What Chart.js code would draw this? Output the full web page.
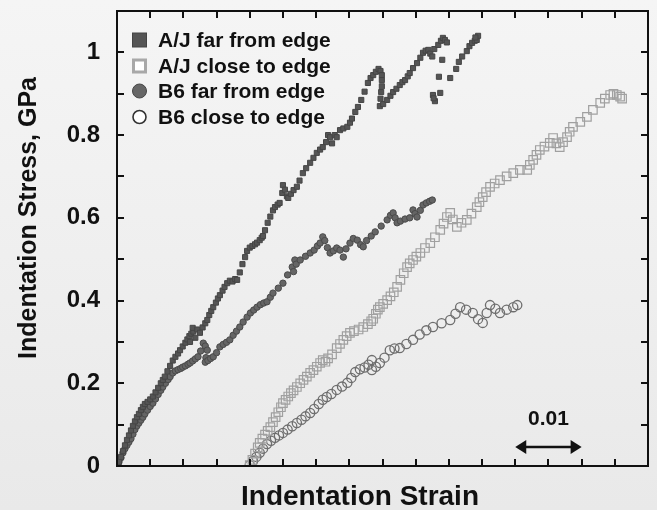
<!DOCTYPE html>
<html>
<head>
<meta charset="utf-8">
<script src="https://cdn.jsdelivr.net/npm/chart.js@4.4.1/dist/chart.umd.min.js"></script>
<style>
  html, body { margin: 0; padding: 0; }
  body { width: 657px; height: 510px; background: linear-gradient(#f5f5f5, #e9e9e9); }
  #wrap { width: 657px; height: 510px; }
</style>
</head>
<body>
<div id="wrap"><canvas id="stressChart" width="657" height="510"></canvas></div>
<script>
// strain, stress (GPa)
const ajFar = [
  [0,0],[0.0003,0.010],[0.0006,0.022],[0.0009,0.036],[0.0012,0.050],[0.0015,0.063],[0.0018,0.074],[0.0021,0.086],
  [0.0024,0.097],[0.0027,0.108],[0.003,0.118],[0.0033,0.126],[0.0036,0.135],[0.0039,0.143],[0.0042,0.150],[0.0046,0.155],
  [0.005,0.161],[0.0054,0.168],[0.0058,0.178],[0.0062,0.189],[0.0066,0.200],[0.0069,0.208],[0.0072,0.216],[0.0076,0.229],
  [0.008,0.242],[0.0084,0.255],[0.0088,0.264],[0.0092,0.272],[0.0095,0.280],[0.0099,0.289],[0.0103,0.298],[0.0106,0.306],
  [0.0109,0.314],[0.0112,0.320],[0.0110,0.300],[0.0115,0.325],[0.0118,0.310],[0.0114,0.334],[0.0121,0.330],[0.0125,0.322],
  [0.0129,0.335],[0.0133,0.345],[0.0136,0.353],[0.0139,0.365],[0.0142,0.375],[0.0145,0.384],[0.0149,0.395],[0.0152,0.405],
  [0.0155,0.413],[0.0159,0.424],[0.0162,0.433],[0.0166,0.442],[0.017,0.448],[0.0174,0.446],[0.0178,0.452],[0.0181,0.450],
  [0.0185,0.468],[0.0189,0.488],[0.0193,0.505],[0.0196,0.520],[0.02,0.528],[0.0204,0.532],[0.0208,0.536],[0.0211,0.540],
  [0.0215,0.546],[0.0218,0.552],[0.022,0.556],[0.0223,0.570],[0.0227,0.588],[0.0231,0.603],[0.0235,0.618],[0.0238,0.626],
  [0.0242,0.632],[0.0245,0.636],[0.0249,0.660],[0.0250,0.679],[0.0253,0.668],[0.0256,0.652],[0.0258,0.648],[0.0262,0.658],
  [0.0266,0.667],[0.0271,0.675],[0.0275,0.690],[0.028,0.708],[0.0285,0.720],[0.0291,0.733],[0.0296,0.745],[0.0301,0.757],
  [0.0306,0.765],[0.031,0.771],[0.0315,0.783],[0.0318,0.800],[0.0321,0.795],[0.0324,0.780],[0.0328,0.800],[0.0331,0.795],
  [0.0336,0.812],[0.0341,0.816],[0.0347,0.820],[0.0351,0.830],[0.0354,0.840],[0.0359,0.856],[0.0363,0.868],[0.0368,0.885],
  [0.0373,0.905],[0.0378,0.926],[0.0382,0.938],[0.0386,0.945],[0.039,0.953],[0.0394,0.960],[0.0397,0.955],[0.0399,0.945],
  [0.0399,0.933],[0.0399,0.918],[0.0398,0.904],[0.0397,0.888],[0.0396,0.870],[0.0401,0.875],[0.0407,0.885],[0.0412,0.895],
  [0.0416,0.904],[0.0421,0.912],[0.0426,0.921],[0.043,0.928],[0.0434,0.933],[0.0438,0.942],[0.0441,0.950],[0.0446,0.962],
  [0.0452,0.974],[0.0457,0.987],[0.0461,0.999],[0.0465,1.004],[0.0469,1.006],[0.0472,0.997],[0.0475,0.990],[0.0478,1.008],
  [0.0484,1.018],[0.0488,1.028],[0.0491,1.035],[0.0494,1.030],[0.0497,1.024],[0.0490,0.982],[0.0485,0.941],[0.0502,0.938],
  [0.0476,0.897],[0.0479,0.882],[0.0487,0.902],[0.0477,0.889],[0.0511,0.960],[0.0515,0.977],[0.052,0.990],[0.0527,1.003],
  [0.0531,1.015],[0.0535,1.023],[0.0539,1.028],[0.0542,1.030],[0.0544,1.040],[0.0540,1.036]
];
const ajClose = [
  [0.0200,0.002],[0.0204,0.015],[0.0208,0.030],[0.0212,0.045],[0.0215,0.056],[0.0219,0.066],[0.0223,0.076],[0.0227,0.085],
  [0.0231,0.094],[0.0235,0.106],[0.0239,0.118],[0.0243,0.130],[0.0247,0.142],[0.025,0.152],[0.0254,0.160],[0.0258,0.168],
  [0.0262,0.176],[0.0266,0.183],[0.0271,0.191],[0.0276,0.200],[0.0281,0.208],[0.0286,0.216],[0.0291,0.225],[0.0296,0.232],
  [0.0301,0.240],[0.0306,0.249],[0.031,0.256],[0.0314,0.252],[0.0318,0.260],[0.0324,0.270],[0.0331,0.285],[0.0336,0.295],
  [0.0341,0.305],[0.0346,0.314],[0.0351,0.322],[0.0357,0.326],[0.0364,0.330],[0.0371,0.336],[0.0378,0.343],[0.0383,0.350],
  [0.0386,0.356],[0.039,0.368],[0.0393,0.378],[0.0396,0.384],[0.0401,0.392],[0.0407,0.401],[0.0412,0.410],[0.0417,0.420],
  [0.0422,0.433],[0.0427,0.450],[0.0432,0.466],[0.0437,0.481],[0.0441,0.490],[0.0446,0.498],[0.0451,0.506],[0.0457,0.515],
  [0.0464,0.527],[0.0472,0.539],[0.0479,0.553],[0.0487,0.571],[0.0492,0.586],[0.0497,0.602],[0.0502,0.612],[0.0506,0.596],
  [0.0512,0.578],[0.0519,0.588],[0.0527,0.595],[0.0534,0.610],[0.0542,0.626],[0.0546,0.638],[0.0551,0.650],[0.0556,0.662],
  [0.0562,0.675],[0.0569,0.683],[0.0577,0.691],[0.0587,0.700],[0.0597,0.708],[0.0607,0.716],[0.0618,0.716],[0.0622,0.728],
  [0.0627,0.740],[0.0632,0.752],[0.0637,0.764],[0.0644,0.772],[0.0652,0.781],[0.0657,0.793],[0.0662,0.780],[0.0667,0.771],
  [0.0672,0.783],[0.0678,0.795],[0.0682,0.808],[0.0687,0.820],[0.0698,0.832],[0.0708,0.844],[0.0717,0.861],[0.0728,0.878],
  [0.0735,0.888],[0.0743,0.897],[0.0748,0.900],[0.0753,0.897],[0.0758,0.893],[0.0761,0.888]
];
const b6Far = [
  [0,0],[0.0003,0.010],[0.0006,0.020],[0.0009,0.032],[0.0012,0.042],[0.0015,0.050],[0.0018,0.058],[0.0021,0.066],
  [0.0024,0.077],[0.0027,0.088],[0.003,0.097],[0.0033,0.104],[0.0036,0.111],[0.0039,0.118],[0.0042,0.126],[0.0046,0.135],
  [0.005,0.144],[0.0054,0.152],[0.0058,0.162],[0.0062,0.173],[0.0066,0.183],[0.0069,0.191],[0.0073,0.200],[0.0077,0.209],
  [0.008,0.216],[0.0084,0.225],[0.0088,0.230],[0.0092,0.233],[0.0096,0.236],[0.0099,0.239],[0.0103,0.242],[0.0107,0.246],
  [0.011,0.249],[0.0114,0.254],[0.0118,0.259],[0.0122,0.264],[0.0126,0.278],[0.013,0.297],[0.0133,0.290],[0.0136,0.280],
  [0.0134,0.262],[0.0133,0.251],[0.0137,0.255],[0.0141,0.260],[0.0145,0.264],[0.015,0.274],[0.0155,0.288],[0.016,0.294],
  [0.0165,0.299],[0.017,0.305],[0.0175,0.316],[0.018,0.326],[0.0185,0.336],[0.019,0.348],[0.0196,0.360],[0.0201,0.370],
  [0.0206,0.377],[0.0211,0.384],[0.0216,0.390],[0.0221,0.394],[0.0226,0.397],[0.0231,0.408],[0.0235,0.418],[0.0243,0.430],
  [0.025,0.442],[0.0257,0.462],[0.0264,0.481],[0.0266,0.470],[0.0268,0.498],[0.0270,0.488],[0.0276,0.498],[0.0284,0.507],
  [0.0291,0.515],[0.0297,0.522],[0.0302,0.532],[0.0306,0.539],[0.031,0.554],[0.0313,0.545],[0.0317,0.528],[0.0321,0.515],
  [0.0326,0.520],[0.0331,0.527],[0.0336,0.522],[0.0341,0.505],[0.0345,0.525],[0.0351,0.539],[0.0356,0.550],[0.0362,0.546],
  [0.0367,0.535],[0.0371,0.530],[0.0376,0.545],[0.0383,0.556],[0.0389,0.566],[0.0398,0.580],[0.0407,0.595],[0.0412,0.606],
  [0.0416,0.612],[0.0419,0.600],[0.0422,0.588],[0.0427,0.592],[0.0434,0.597],[0.0441,0.600],[0.0446,0.619],[0.0449,0.610],
  [0.0452,0.602],[0.0457,0.618],[0.0461,0.631],[0.0466,0.636],[0.0471,0.640],[0.0475,0.643]
];
const b6Close = [
  [0.0200,0.002],[0.0205,0.012],[0.021,0.022],[0.0215,0.032],[0.022,0.042],[0.0226,0.053],[0.0232,0.061],[0.0238,0.068],
  [0.0244,0.074],[0.025,0.080],[0.0257,0.088],[0.0264,0.096],[0.0271,0.104],[0.0278,0.112],[0.0284,0.120],[0.0291,0.128],
  [0.0297,0.138],[0.0304,0.150],[0.031,0.160],[0.0316,0.167],[0.0323,0.174],[0.0331,0.184],[0.0339,0.192],[0.0347,0.201],
  [0.0353,0.213],[0.0359,0.227],[0.0366,0.234],[0.0373,0.238],[0.0379,0.245],[0.0384,0.256],[0.0384,0.232],[0.039,0.240],
  [0.0396,0.249],[0.0403,0.262],[0.0411,0.280],[0.0418,0.284],[0.0426,0.285],[0.0436,0.295],[0.0446,0.305],[0.0456,0.318],
  [0.0466,0.328],[0.0476,0.336],[0.0489,0.345],[0.0502,0.353],[0.051,0.368],[0.0517,0.384],[0.0526,0.378],[0.0536,0.370],
  [0.0544,0.355],[0.0551,0.346],[0.0557,0.370],[0.0562,0.389],[0.057,0.380],[0.0577,0.370],[0.0587,0.378],[0.0597,0.384],
  [0.0603,0.389]
];

const seriesNames = ['A/J far from edge', 'A/J close to edge', 'B6 far from edge', 'B6 close to edge'];
const yLabelValues = [0, 0.2, 0.4, 0.6, 0.8, 1];
const yTickValues = [0.1, 0.2, 0.3, 0.4, 0.5, 0.6, 0.7, 0.8, 0.9, 1.0];
const xTickValues = [0.005, 0.01, 0.015, 0.02, 0.025, 0.03, 0.035, 0.04, 0.045, 0.05, 0.055, 0.06, 0.065, 0.07, 0.075];
const scaleBar = { from: 0.06, to: 0.07, y: 0.046, label: '0.01', labelX: 0.065, labelY: 0.099 };

const FONT = '"Liberation Sans", Arial, sans-serif';
const toPts = arr => arr.map(p => ({ x: p[0], y: p[1] }));

// frame with inward ticks, legend, scale bar and axis titles
const decor = {
  id: 'decor',
  afterDraw(chart) {
    const { ctx, chartArea: a, scales: { x, y } } = chart;
    ctx.save();
    ctx.strokeStyle = '#111';
    ctx.lineWidth = 2;
    ctx.strokeRect(a.left, a.top, a.right - a.left, a.bottom - a.top);
    const tl = 7;
    ctx.beginPath();
    xTickValues.forEach(v => {
      const px = Math.round(x.getPixelForValue(v));
      ctx.moveTo(px, a.bottom); ctx.lineTo(px, a.bottom - tl);
      ctx.moveTo(px, a.top); ctx.lineTo(px, a.top + tl);
    });
    yTickValues.forEach(v => {
      const py = Math.round(y.getPixelForValue(v));
      ctx.moveTo(a.left, py); ctx.lineTo(a.left + tl, py);
      ctx.moveTo(a.right, py); ctx.lineTo(a.right - tl, py);
    });
    ctx.stroke();

    // legend
    const rows = [40, 66, 91, 117];
    const mx = 139.5;
    ctx.font = 'bold 21px ' + FONT;
    ctx.textBaseline = 'middle';
    ctx.textAlign = 'left';
    ctx.fillStyle = '#111';
    seriesNames.forEach((name, i) => ctx.fillText(name, 158, rows[i] + 1));
    ctx.fillStyle = '#555'; ctx.strokeStyle = '#444'; ctx.lineWidth = 1;
    ctx.fillRect(mx - 7, rows[0] - 7, 14, 14); ctx.strokeRect(mx - 7, rows[0] - 7, 14, 14);
    ctx.fillStyle = '#fff'; ctx.strokeStyle = '#a8a8a8'; ctx.lineWidth = 3;
    ctx.fillRect(mx - 6, rows[1] - 6, 12, 12); ctx.strokeRect(mx - 6, rows[1] - 6, 12, 12);
    ctx.fillStyle = '#666'; ctx.strokeStyle = '#444'; ctx.lineWidth = 1;
    ctx.beginPath(); ctx.arc(mx, rows[2], 7, 0, Math.PI * 2); ctx.fill(); ctx.stroke();
    ctx.fillStyle = '#fff'; ctx.strokeStyle = '#333'; ctx.lineWidth = 1.6;
    ctx.beginPath(); ctx.arc(mx, rows[3], 6.5, 0, Math.PI * 2); ctx.fill(); ctx.stroke();

    // scale bar
    const x0 = x.getPixelForValue(scaleBar.from), x1 = x.getPixelForValue(scaleBar.to);
    const yb = y.getPixelForValue(scaleBar.y);
    ctx.strokeStyle = '#111'; ctx.fillStyle = '#111'; ctx.lineWidth = 2.5;
    ctx.beginPath(); ctx.moveTo(x0 + 8, yb); ctx.lineTo(x1 - 8, yb); ctx.stroke();
    ctx.beginPath(); ctx.moveTo(x0, yb); ctx.lineTo(x0 + 11, yb - 7); ctx.lineTo(x0 + 11, yb + 7); ctx.closePath(); ctx.fill();
    ctx.beginPath(); ctx.moveTo(x1, yb); ctx.lineTo(x1 - 11, yb - 7); ctx.lineTo(x1 - 11, yb + 7); ctx.closePath(); ctx.fill();
    ctx.font = 'bold 21px ' + FONT;
    ctx.textAlign = 'center'; ctx.textBaseline = 'alphabetic';
    ctx.fillText(scaleBar.label, x.getPixelForValue(scaleBar.labelX), y.getPixelForValue(scaleBar.labelY));

    // axis titles
    ctx.font = 'bold 28px ' + FONT;
    ctx.fillText('Indentation Strain', 360, 505);
    ctx.translate(29, 218);
    ctx.rotate(-Math.PI / 2);
    ctx.font = 'bold 25px ' + FONT;
    ctx.textBaseline = 'middle';
    ctx.fillText('Indentation Stress, GPa', 0, 0);
    ctx.restore();
  }
};

new Chart(document.getElementById('stressChart'), {
  type: 'scatter',
  data: {
    datasets: [
      { label: seriesNames[0], data: toPts(ajFar), pointStyle: 'rect', pointRadius: 3.6,
        backgroundColor: '#555', borderColor: '#454545', borderWidth: 1 },
      { label: seriesNames[1], data: toPts(ajClose), pointStyle: 'rect', pointRadius: 6,
        backgroundColor: 'rgba(0,0,0,0)', borderColor: '#a0a0a0', borderWidth: 1.2 },
      { label: seriesNames[2], data: toPts(b6Far), pointStyle: 'circle', pointRadius: 3.2,
        backgroundColor: '#656565', borderColor: '#4a4a4a', borderWidth: 1 },
      { label: seriesNames[3], data: toPts(b6Close), pointStyle: 'circle', pointRadius: 4.6,
        backgroundColor: 'rgba(0,0,0,0)', borderColor: '#6e6e6e', borderWidth: 1.3 }
    ]
  },
  options: {
    responsive: false,
    animation: false,
    layout: { padding: { top: 11, right: 9, left: 0, bottom: 0 } },
    plugins: { legend: { display: false }, tooltip: { enabled: false } },
    scales: {
      x: {
        type: 'linear', min: 0, max: 0.08,
        grid: { display: false, drawTicks: false },
        border: { display: false },
        ticks: { display: false },
        afterFit: s => { s.height = 44; s.paddingLeft = 0; s.paddingRight = 0; }
      },
      y: {
        type: 'linear', min: 0, max: 1.1,
        grid: { display: false, drawTicks: false },
        border: { display: false },
        afterBuildTicks: s => { s.ticks = yLabelValues.map(v => ({ value: v })); },
        ticks: {
          padding: 17,
          color: '#111',
          font: { family: FONT, size: 24, weight: 'bold' },
          callback: v => String(v)
        },
        afterFit: s => { s.width = 117; s.paddingTop = 0; s.paddingBottom = 0; }
      }
    }
  },
  plugins: [decor]
});
</script>
</body>
</html>
